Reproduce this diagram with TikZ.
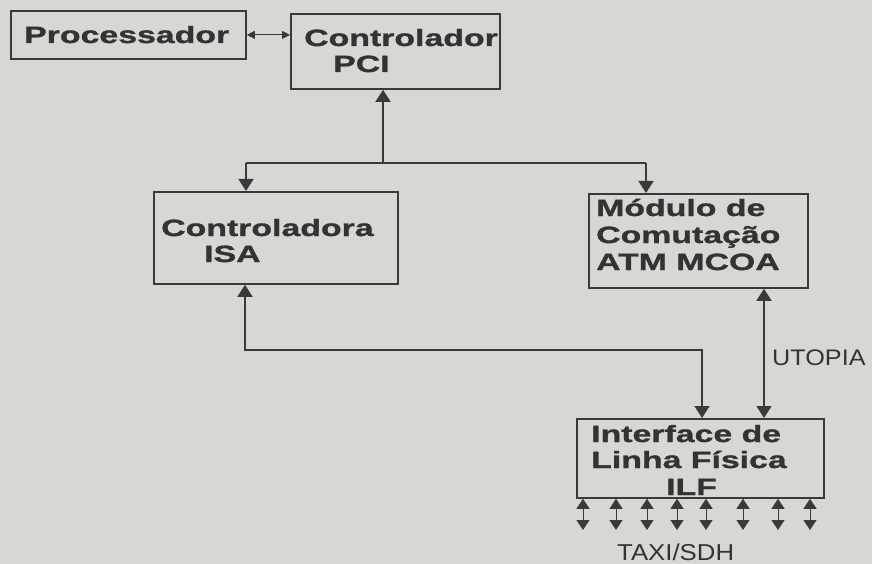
\documentclass[tikz,border=0pt]{standalone}
\usepackage{fontspec}
\setmainfont{Liberation Sans}
\newfontfamily\boxfont{Liberation Sans}[FakeStretch=1.44,BoldFeatures={FakeBold=1.2}]
\newfontfamily\lblfont{Liberation Sans}[FakeStretch=1.12]
\usetikzlibrary{arrows.meta}
\definecolor{bg}{HTML}{D7D7D4}
\definecolor{ink}{HTML}{3A3A3A}
\definecolor{txt}{HTML}{333333}
\begin{document}
\begin{tikzpicture}[x=1pt,y=-1pt,
  box/.style={draw=ink,line width=1.8pt,rectangle,inner sep=0pt,anchor=north west},
  btxt/.style={anchor=base west,inner sep=0pt,text=txt,font=\boxfont\bfseries\fontsize{23.5pt}{26pt}\selectfont},
  ltxt/.style={anchor=base west,inner sep=0pt,text=txt,font=\lblfont\fontsize{22.5pt}{26pt}\selectfont},
  conn/.style={draw=ink,line width=1.6pt},
  arr/.style={conn,-{Triangle[length=12pt,width=15pt]}},
  darr/.style={conn,{Triangle[length=12pt,width=15pt]}-{Triangle[length=12pt,width=15pt]}},
  sdarr/.style={draw=ink,line width=0.9pt,{Triangle[length=10pt,width=13pt]}-{Triangle[length=10pt,width=13pt]}},
  pdarr/.style={draw=ink,line width=0.9pt,{Triangle[length=8pt,width=8pt]}-{Triangle[length=8pt,width=8pt]}}]
\fill[bg] (0,0) rectangle (872,564);
\useasboundingbox (0,0) rectangle (872,564);

% boxes
\node[box,minimum width=235pt,minimum height=48pt] (proc) at (10,10) {};
\node[box,minimum width=209pt,minimum height=75pt] (pci) at (290,13) {};
\node[box,minimum width=244pt,minimum height=92pt] (isa) at (153,191) {};
\node[box,minimum width=219pt,minimum height=94pt] (mcoa) at (588,193) {};
\node[box,minimum width=247pt,minimum height=79pt] (ilf) at (576,418) {};

% texts
\node[btxt] (tproc) at (24,43) {Processador};
\node[btxt] (tpci1) at (304,46) {Controlador};
\node[btxt] (tpci2) at (333,72) {PCI};
\node[btxt] (tisa1) at (161,236) {Controladora};
\node[btxt] (tisa2) at (204,262) {ISA};
\node[btxt] (tm1) at (596,216) {Módulo de};
\node[btxt] (tm2) at (596,243) {Comutação};
\node[btxt] (tm3) at (596,270) {ATM MCOA};
\node[btxt] (ti1) at (591,442) {Interface de};
\node[btxt] (ti2) at (591,468) {Linha Física};
\node[btxt] (ti3) at (666,495) {ILF};
\node[ltxt] (utopia) at (772,365) {UTOPIA};
\node[ltxt,font=\lblfont\fontsize{23pt}{26pt}\selectfont] (taxi) at (617,560) {TAXI/SDH};

% coordinates
\coordinate (bus) at (383,163);
\coordinate (busL) at (246,163);
\coordinate (busR) at (646,163);
\coordinate (lowL) at (245,350);
\coordinate (lowR) at (702,350);
\coordinate (ut) at (764,350);

% connectors
\draw[pdarr] (proc.east) -- (proc.east -| pci.west);
\draw[arr] (bus) -- (bus |- pci.south);
\draw[conn] (busL) -- (busR);
\draw[arr] (busL) -- (busL |- isa.north);
\draw[arr] (busR) -- (busR |- mcoa.north);
\draw[darr] (lowL |- isa.south) -- (lowL) -- (lowR) -- (lowR |- ilf.north);
\draw[darr] (ut |- mcoa.south) -- (ut |- ilf.north);

\foreach \i/\xx in {1/583,2/616,3/647,4/677,5/706,6/743,7/778,8/810}{
  \coordinate (b\i) at (\xx,530);
  \draw[sdarr] (b\i |- ilf.south) -- (b\i);
}
\end{tikzpicture}
\end{document}
